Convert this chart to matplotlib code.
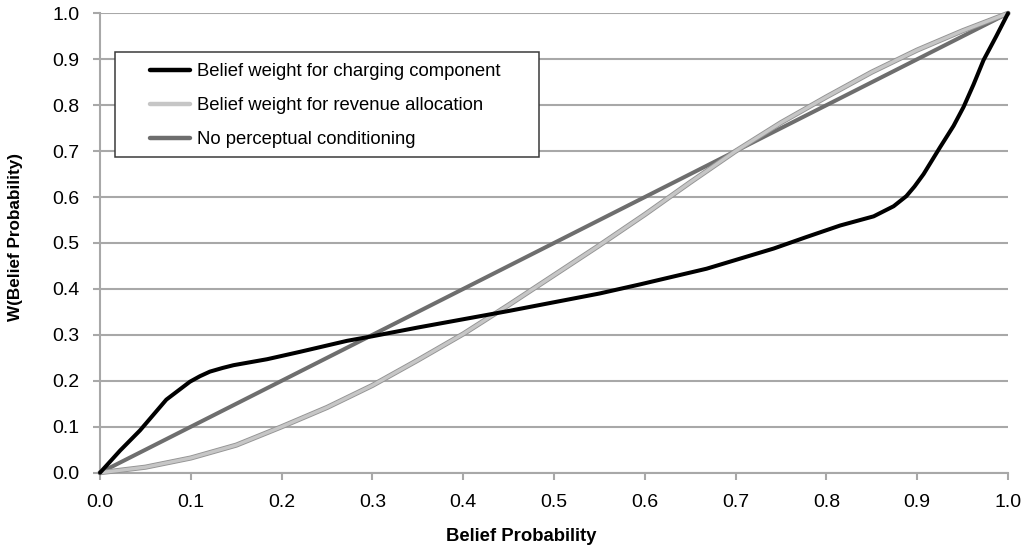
import matplotlib.pyplot as plt
from matplotlib.patches import Rectangle

plt.rcParams['font.family'] = ['Liberation Sans', 'DejaVu Sans']

# Belief weight for charging component
x_charge = [0.0, 0.022, 0.044, 0.073, 0.099, 0.11, 0.121, 0.135, 0.147, 0.184, 0.22, 0.272,
            0.3, 0.35, 0.4, 0.45, 0.5, 0.55, 0.595, 0.668, 0.742, 0.778, 0.815, 0.852, 0.874,
            0.888, 0.897, 0.907, 0.925, 0.94, 0.951, 0.962, 0.973, 0.987, 1.0]
y_charge = [0.0, 0.048, 0.092, 0.159, 0.198, 0.21, 0.22, 0.228, 0.234, 0.247, 0.263, 0.287,
            0.297, 0.316, 0.334, 0.352, 0.371, 0.39, 0.41, 0.444, 0.488, 0.513, 0.538, 0.558,
            0.58, 0.602, 0.623, 0.65, 0.708, 0.755, 0.796, 0.845, 0.898, 0.95, 1.0]

# Belief weight for revenue allocation
x_rev = [0.0, 0.05, 0.1, 0.15, 0.2, 0.25, 0.3, 0.35, 0.4, 0.45, 0.5, 0.55, 0.6, 0.65, 0.7,
         0.75, 0.8, 0.85, 0.9, 0.95, 1.0]
y_rev = [0.0, 0.012, 0.032, 0.06, 0.1, 0.142, 0.19, 0.245, 0.302, 0.365, 0.43, 0.495, 0.562,
         0.632, 0.7, 0.762, 0.818, 0.872, 0.92, 0.962, 1.0]

# No perceptual conditioning
x_none = [0.0, 1.0]
y_none = [0.0, 1.0]

labels = ['Belief weight for charging component',
          'Belief weight for revenue allocation',
          'No perceptual conditioning']
ticks = [i / 10 for i in range(11)]

fig = plt.figure(figsize=(10.26, 5.49), dpi=100)
ax = fig.add_axes([0.0975, 0.139, 0.885, 0.8368])

grid_c = '#a8a8a8'
ax.set_xlim(0, 1)
ax.set_ylim(0, 1)
ax.set_xticks(ticks)
ax.set_yticks(ticks)
ax.xaxis.set_major_formatter(plt.FormatStrFormatter('%.1f'))
ax.yaxis.set_major_formatter(plt.FormatStrFormatter('%.1f'))
ax.grid(axis='y', color=grid_c, linewidth=1.5)
ax.set_axisbelow(True)
for s in ['top', 'right']:
    ax.spines[s].set_visible(False)
for s in ['left', 'bottom']:
    ax.spines[s].set_color(grid_c)
    ax.spines[s].set_linewidth(1.5)
ax.tick_params(direction='out', length=5, width=1.5, color=grid_c, labelsize=14, pad=10)

l1, = ax.plot(x_charge, y_charge, color='black', lw=2.9, solid_capstyle='round',
              solid_joinstyle='round', clip_on=False, zorder=4)
ax.plot(x_rev, y_rev, color='#949494', lw=3.7, solid_capstyle='round',
        solid_joinstyle='round', clip_on=False, zorder=3)
l2, = ax.plot(x_rev, y_rev, color='#c6c6c6', lw=2.4, solid_capstyle='round',
              solid_joinstyle='round', clip_on=False, zorder=3)
l3, = ax.plot(x_none, y_none, color='#6e6e6e', lw=2.9, solid_capstyle='round',
              clip_on=False, zorder=2)

# legend frame
ax.add_patch(Rectangle((0.0165, 0.687), 0.467, 0.229, transform=ax.transAxes,
                       facecolor='white', edgecolor='#3a3a3a', lw=1.1, zorder=5))
leg = ax.legend([l1, l2, l3], labels, loc='upper left', bbox_to_anchor=(0.055, 0.891),
                fontsize=13.3, frameon=False, handlelength=2.15, handletextpad=0.38,
                borderpad=0, labelspacing=0.92, borderaxespad=0)
leg.set_zorder(6)
for h in leg.get_lines():
    h.set_linewidth(3.2)
    h.set_solid_capstyle('round')

ax.set_xlabel('Belief Probability', fontsize=13.3, fontweight='bold', va='center')
ax.xaxis.set_label_coords(0.4637, -0.138)
ax.set_ylabel('W(Belief Probability)', fontsize=12.3, fontweight='bold', va='center')
ax.yaxis.set_label_coords(-0.0936, 0.514)

fig.savefig('out.png', dpi=100)
